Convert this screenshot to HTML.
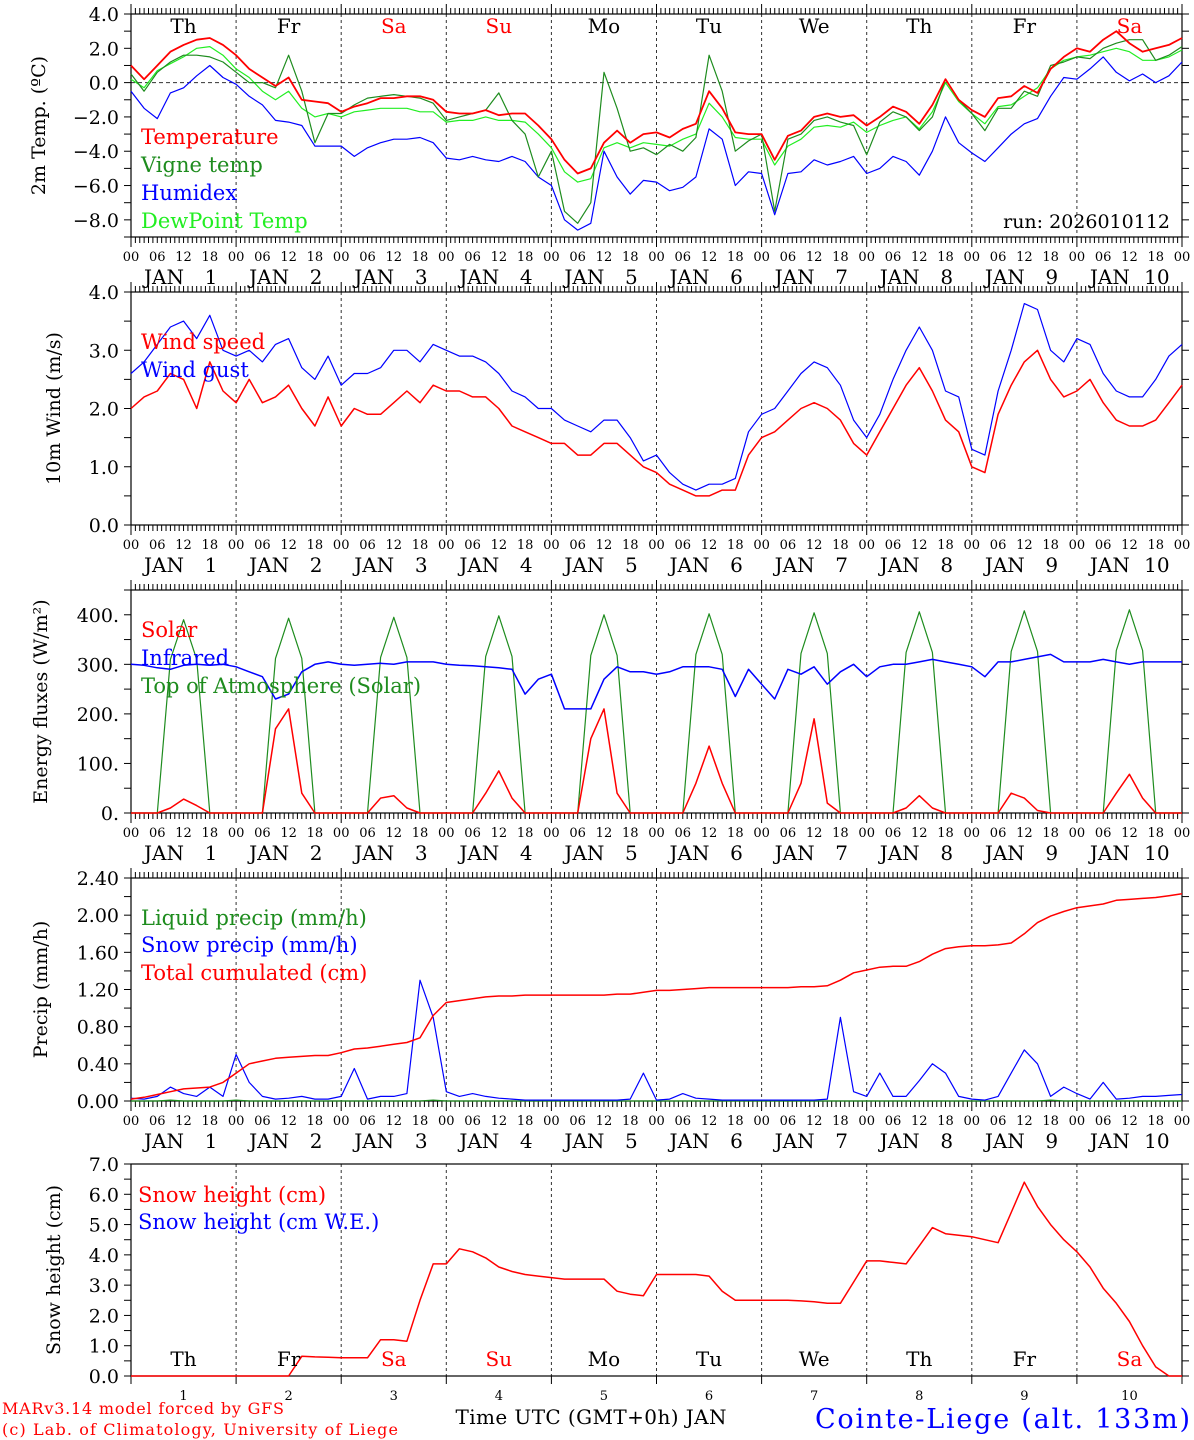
<!DOCTYPE html>
<html><head><meta charset="utf-8"><style>
html,body{margin:0;padding:0;background:#fff;}
svg{display:block;font-family:"DejaVu Serif","Liberation Serif",serif;}
</style></head><body>
<svg id="chart" width="1194" height="1440" viewBox="0 0 1194 1440" xmlns="http://www.w3.org/2000/svg"></svg>
<script>
// ---- data (3-hourly, Jan 1 00h .. Jan 11 00h, 81 points) ----
const dayNames = ["Th","Fr","Sa","Su","Mo","Tu","We","Th","Fr","Sa"];
const dayNums = ["1","2","3","4","5","6","7","8","9","10"];
const hourLabels = ["00","06","12","18"];
const tempVals = [1.0,0.2,1.0,1.8,2.2,2.5,2.6,2.2, 1.6,0.8,0.3,-0.2,0.3,-1.0,-1.1,-1.2, -1.7,-1.4,-1.2,-0.9,-0.9,-0.8,-0.8,-1.0, -1.7,-1.8,-1.8,-1.6,-1.9,-1.8,-1.8,-2.5, -3.3,-4.5,-5.3,-5.0,-3.5,-2.8,-3.5,-3.0, -2.9,-3.2,-2.7,-2.4,-0.5,-1.5,-2.9,-3.0, -3.0,-4.5,-3.1,-2.8,-2.0,-1.8,-2.0,-1.9, -2.5,-2.0,-1.4,-1.7,-2.4,-1.3,0.2,-1.0, -1.6,-2.0,-0.9,-0.8,-0.2,-0.6,0.8,1.5, 2.0,1.8,2.5,3.0,2.3,1.8,2.0,2.2,2.6];
const vigneVals = [0.5,-0.5,0.6,1.2,1.6,1.6,1.5,1.2, 0.6,0.0,0.0,-0.3,1.6,-0.5,-3.5,-1.8, -1.8,-1.3,-0.9,-0.8,-0.7,-0.8,-0.9,-1.2, -2.2,-2.0,-1.8,-1.6,-0.6,-2.2,-3.0,-5.5, -4.0,-7.5,-8.2,-7.0,0.6,-1.5,-4.0,-3.8, -4.2,-3.6,-4.0,-3.2,1.6,-0.5,-4.0,-3.4, -3.0,-7.5,-3.3,-3.0,-2.2,-2.0,-2.3,-2.5, -4.2,-2.3,-1.7,-2.0,-2.8,-2.0,0.2,-1.0, -1.8,-2.8,-1.5,-1.5,-0.5,-0.8,1.0,1.2, 1.5,1.4,2.0,2.3,2.5,2.5,1.3,1.6,2.1];
const humidexVals = [-0.5,-1.5,-2.1,-0.6,-0.3,0.4,1.0,0.3, -0.1,-0.8,-1.3,-2.2,-2.3,-2.5,-3.7,-3.7, -3.7,-4.3,-3.8,-3.5,-3.3,-3.3,-3.2,-3.5, -4.4,-4.5,-4.3,-4.5,-4.6,-4.3,-4.6,-5.5, -6.0,-8.0,-8.6,-8.2,-4.0,-5.5,-6.5,-5.7, -5.8,-6.3,-6.1,-5.5,-2.7,-3.3,-6.0,-5.2, -5.3,-7.7,-5.3,-5.2,-4.5,-4.8,-4.6,-4.3, -5.3,-5.0,-4.3,-4.6,-5.4,-4.0,-2.0,-3.5, -4.1,-4.6,-3.8,-3.0,-2.4,-2.1,-0.8,0.3, 0.2,0.8,1.5,0.6,0.1,0.5,0.0,0.4,1.2];
const dewVals = [0.2,-0.3,0.7,1.1,1.5,2.0,2.1,1.6, 0.8,0.3,-0.5,-1.0,-0.5,-1.5,-2.0,-1.8, -2.0,-1.7,-1.6,-1.5,-1.5,-1.5,-1.7,-1.7, -2.3,-2.2,-2.2,-2.0,-2.2,-2.2,-2.3,-3.0, -3.8,-5.2,-5.8,-5.6,-3.8,-3.5,-3.8,-3.5, -3.6,-3.7,-3.3,-3.0,-1.2,-2.0,-3.2,-3.3, -3.3,-4.8,-3.7,-3.3,-2.6,-2.5,-2.6,-2.3, -2.9,-2.5,-2.2,-2.0,-2.7,-1.7,0.0,-1.1, -1.8,-2.4,-1.4,-1.3,-0.8,-0.3,0.8,1.3, 1.5,1.6,1.8,2.0,1.8,1.3,1.3,1.5,1.9];
const windVals = [2.0,2.2,2.3,2.6,2.5,2.0,2.8,2.3, 2.1,2.5,2.1,2.2,2.4,2.0,1.7,2.2, 1.7,2.0,1.9,1.9,2.1,2.3,2.1,2.4, 2.3,2.3,2.2,2.2,2.0,1.7,1.6,1.5, 1.4,1.4,1.2,1.2,1.4,1.4,1.2,1.0, 0.9,0.7,0.6,0.5,0.5,0.6,0.6,1.2, 1.5,1.6,1.8,2.0,2.1,2.0,1.8,1.4, 1.2,1.6,2.0,2.4,2.7,2.3,1.8,1.6, 1.0,0.9,1.9,2.4,2.8,3.0,2.5,2.2, 2.3,2.5,2.1,1.8,1.7,1.7,1.8,2.1,2.4];
const gustVals = [2.6,2.8,3.1,3.4,3.5,3.2,3.6,3.0, 2.9,3.0,2.8,3.1,3.2,2.7,2.5,2.9, 2.4,2.6,2.6,2.7,3.0,3.0,2.8,3.1, 3.0,2.9,2.9,2.8,2.6,2.3,2.2,2.0, 2.0,1.8,1.7,1.6,1.8,1.8,1.5,1.1, 1.2,0.9,0.7,0.6,0.7,0.7,0.8,1.6, 1.9,2.0,2.3,2.6,2.8,2.7,2.4,1.8, 1.5,1.9,2.5,3.0,3.4,3.0,2.3,2.2, 1.3,1.2,2.3,3.0,3.8,3.7,3.0,2.8, 3.2,3.1,2.6,2.3,2.2,2.2,2.5,2.9,3.1];
const solarVals = [0,0,0,10,28,15,0,0, 0,0,0,170,210,40,0,0, 0,0,0,30,35,10,0,0, 0,0,0,40,85,30,0,0, 0,0,0,150,210,40,0,0, 0,0,0,60,135,60,0,0, 0,0,0,60,190,20,0,0, 0,0,0,10,35,10,0,0, 0,0,0,40,30,5,0,0, 0,0,0,40,78,30,0,0,0];
const infraVals = [300,298,293,290,298,300,298,300, 295,285,275,230,240,285,300,305, 300,298,300,302,300,305,305,305, 300,298,297,295,293,290,240,270, 280,210,210,210,270,295,285,285, 280,285,295,295,295,290,235,290, 260,230,290,280,295,260,285,300, 275,295,300,300,305,310,305,300, 295,275,305,305,310,315,320,305, 305,305,310,305,300,305,305,305,305];
const toaVals = [0,0,0,310,390,310,0,0, 0,0,0,312,393,312,0,0, 0,0,0,314,395,314,0,0, 0,0,0,316,398,316,0,0, 0,0,0,318,400,318,0,0, 0,0,0,320,402,320,0,0, 0,0,0,322,404,322,0,0, 0,0,0,324,406,324,0,0, 0,0,0,326,408,326,0,0, 0,0,0,328,410,328,0,0,0];
const liquidVals = [0,0,0,0.01,0,0,0,0, 0.01,0,0,0,0,0,0,0, 0,0,0,0,0,0,0,0.01, 0,0,0,0,0,0,0,0, 0,0,0,0,0,0,0,0, 0,0,0,0,0,0,0,0, 0,0,0,0,0,0,0,0, 0,0,0,0,0,0,0,0, 0,0,0,0,0,0,0.01,0, 0,0,0,0,0,0,0,0,0];
const snowPrecipVals = [0.03,0.02,0.05,0.15,0.08,0.05,0.15,0.05, 0.5,0.2,0.05,0.02,0.03,0.05,0.02,0.02, 0.05,0.35,0.02,0.05,0.05,0.08,1.3,0.9, 0.1,0.05,0.08,0.05,0.03,0.02,0.01,0.01, 0.01,0.01,0.01,0.01,0.01,0.01,0.02,0.3, 0.01,0.02,0.08,0.03,0.02,0.01,0.01,0.01, 0.01,0.01,0.01,0.01,0.01,0.02,0.9,0.1, 0.05,0.3,0.05,0.05,0.22,0.4,0.3,0.05, 0.02,0.01,0.05,0.3,0.55,0.4,0.05,0.15, 0.08,0.02,0.2,0.02,0.03,0.05,0.05,0.06,0.07];
const cumulVals = [0.02,0.04,0.07,0.10,0.13,0.14,0.15,0.20, 0.30,0.40,0.43,0.46,0.47,0.48,0.49,0.49, 0.52,0.56,0.57,0.59,0.61,0.63,0.68,0.92, 1.06,1.08,1.10,1.12,1.13,1.13,1.14,1.14, 1.14,1.14,1.14,1.14,1.14,1.15,1.15,1.17, 1.19,1.19,1.20,1.21,1.22,1.22,1.22,1.22, 1.22,1.22,1.22,1.23,1.23,1.24,1.30,1.38, 1.41,1.44,1.45,1.45,1.50,1.58,1.64,1.66, 1.67,1.67,1.68,1.70,1.80,1.92,1.99,2.04, 2.08,2.10,2.12,2.16,2.17,2.18,2.19,2.21,2.23];
const snowHVals = [0,0,0,0,0,0,0,0, 0,0,0,0,0,0.65,0.63,0.62, 0.6,0.6,0.6,1.2,1.2,1.15,2.5,3.7, 3.7,4.2,4.1,3.9,3.6,3.45,3.35,3.3, 3.25,3.2,3.2,3.2,3.2,2.8,2.7,2.65, 3.35,3.35,3.35,3.35,3.3,2.8,2.5,2.5, 2.5,2.5,2.5,2.48,2.45,2.4,2.4,3.1, 3.8,3.8,3.75,3.7,4.3,4.9,4.7,4.65, 4.6,4.5,4.4,5.4,6.4,5.6,5.0,4.5, 4.1,3.6,2.9,2.4,1.8,1.0,0.3,0,0];
const t1Ticks = [-8,-6,-4,-2,0,2,4];
const t2Ticks = [0,1,2,3,4];
const t3Ticks = [0,100,200,300,400];
const t4Ticks = [0,0.4,0.8,1.2,1.6,2.0,2.4];
const t5Ticks = [0,1,2,3,4,5,6,7];

const NS="http://www.w3.org/2000/svg";
const svg=document.getElementById('chart');
const X0=131, X1=1182;
function xt(h){return X0+h/240*(X1-X0);}
function xi(i){return xt(i*3);}
function mk(tag,attrs,parent){const e=document.createElementNS(NS,tag);for(const k in attrs)e.setAttribute(k,attrs[k]);(parent||svg).appendChild(e);return e;}
function txt(s,x,y,size,fill,anchor,parent){const e=mk('text',{x:x,y:y,'font-size':size,fill:fill||'#000','text-anchor':anchor||'start'},parent);e.textContent=s;return e;}

const panels=[
 {name:'temperature-panel',top:14,bot:237,min:-9,max:4,ticks:t1Ticks,minor:1,fmt:v=>v.toFixed(1).replace('-','−'),title:'2m Temp. (ºC)',tx:45,xlab:true},
 {name:'wind-panel',top:292,bot:525,min:0,max:4,ticks:t2Ticks,minor:0.5,fmt:v=>v.toFixed(1),title:'10m Wind (m/s)',tx:60,xlab:true},
 {name:'energy-panel',top:590,bot:813,min:0,max:450,ticks:t3Ticks,minor:50,fmt:v=>v.toFixed(0)+'.',title:'Energy fluxes (W/m²)',tx:47,xlab:true},
 {name:'precip-panel',top:878,bot:1101,min:0,max:2.4,ticks:t4Ticks,minor:0.2,fmt:v=>v.toFixed(2),title:'Precip (mm/h)',tx:47,xlab:true},
 {name:'snow-panel',top:1164,bot:1376,min:0,max:7,ticks:t5Ticks,minor:0.5,fmt:v=>v.toFixed(1),title:'Snow height (cm)',tx:60,xlab:false}
];
function ys(p,v){return p.bot-(v-p.min)/(p.max-p.min)*(p.bot-p.top);}

panels.forEach((p,pi)=>{
  const g=mk('g',{});
  
  
  for(let d=1;d<10;d++){const l=mk('line',{x1:xt(d*24),x2:xt(d*24),y1:p.top,y2:p.bot,stroke:'#333','stroke-width':1,'stroke-dasharray':'3,3'},g);
    
    }
  if(pi===0){const z=mk('line',{x1:X0,x2:X1,y1:ys(p,0),y2:ys(p,0),stroke:'#333','stroke-dasharray':'4,3'},g);
    
    }
  if(p.xlab){
    for(let h=0;h<=240;h++){const len=(h%24===0)?10:6;
      mk('line',{x1:xt(h),x2:xt(h),y1:p.bot,y2:p.bot+len,stroke:'#000'},g);
      mk('line',{x1:xt(h),x2:xt(h),y1:p.top,y2:p.top-len,stroke:'#000'},g);}
    for(let d=0;d<=10;d++){for(let k=0;k<4;k++){if(d===10&&k>0)break;
      const t=txt(hourLabels[k],xt(d*24+k*6),p.bot+24,13,'#000','middle',g);
      
      }}
    for(let d=0;d<10;d++){
      const a=txt('JAN',xt(d*24)+33,p.bot+47,20,'#000','middle',g);
      
      
      const b=txt(dayNums[d],xt(d*24)+80,p.bot+47,20,'#000','middle',g);
      
      }
  } else {
    for(let d=0;d<=10;d++){mk('line',{x1:xt(d*24),x2:xt(d*24),y1:p.bot,y2:p.bot+8,stroke:'#000'},g);}
    for(let d=0;d<10;d++){const b=txt(dayNums[d],xt(d*24+12),p.bot+24,13,'#000','middle',g);
      
      }
  }
  for(let v=p.min;v<=p.max+1e-9;v+=p.minor){const y=ys(p,v);
    mk('line',{x1:X0-7,x2:X0,y1:y,y2:y,stroke:'#000'},g);
    mk('line',{x1:X1,x2:X1+7,y1:y,y2:y,stroke:'#000'},g);}
  p.ticks.forEach(v=>{const t=txt(p.fmt(v),X0-12,ys(p,v)+7,19,'#000','end',g);
    
    });
  const cy=(p.top+p.bot)/2;
  const tt=mk('text',{x:p.tx,y:cy,'font-size':19,'text-anchor':'middle',transform:`rotate(-90 ${p.tx} ${cy})`,fill:'#000'},g);
  tt.textContent=p.title;
  
  
  const fr=mk('rect',{x:X0,y:p.top,width:X1-X0,height:p.bot-p.top,fill:'none',stroke:'#000','stroke-width':1.2},g);
  
  
});

function series(vals,p,color,name,w){
  const pts=vals.map((v,i)=>xi(i).toFixed(1)+','+ys(p,v).toFixed(1)).join(' ');
  const e=mk('polyline',{points:pts,fill:'none',stroke:color,'stroke-width':w||1.2,'stroke-linejoin':'round'});
  
  
}
const RED='#ff0000',BLUE='#0000ff',DG='#1e8c1e',LG='#22ee22';
series(humidexVals,panels[0],BLUE,'humidex-line');
series(dewVals,panels[0],LG,'dewpoint-line');
series(vigneVals,panels[0],DG,'vigne-temp-line');
series(tempVals,panels[0],RED,'temperature-line',1.8);
series(gustVals,panels[1],BLUE,'wind-gust-line');
series(windVals,panels[1],RED,'wind-speed-line',1.5);
series(toaVals,panels[2],DG,'toa-solar-line');
series(infraVals,panels[2],BLUE,'infrared-line',1.5);
series(solarVals,panels[2],RED,'solar-line',1.5);
series(liquidVals,panels[3],DG,'liquid-precip-line');
series(snowPrecipVals,panels[3],BLUE,'snow-precip-line');
series(cumulVals,panels[3],RED,'total-cumulated-line',1.5);
series(snowHVals,panels[4],RED,'snow-height-line',1.5);

function legend(s,x,y,c,name){const t=txt(s,x,y,21,c,'start');
  
  }
legend('Temperature',141,144,RED,'legend-temperature');
legend('Vigne temp',141,172,DG,'legend-vigne-temp');
legend('Humidex',141,200,BLUE,'legend-humidex');
legend('DewPoint Temp',141,228,LG,'legend-dewpoint');
legend('Wind speed',141,349,RED,'legend-wind-speed');
legend('Wind gust',141,377,BLUE,'legend-wind-gust');
legend('Solar',141,637,RED,'legend-solar');
legend('Infrared',141,665,BLUE,'legend-infrared');
legend('Top of Atmosphere (Solar)',141,693,DG,'legend-toa');
legend('Liquid precip (mm/h)',141,925,DG,'legend-liquid-precip');
legend('Snow precip (mm/h)',141,952,BLUE,'legend-snow-precip');
legend('Total cumulated (cm)',141,980,RED,'legend-total-cumulated');
legend('Snow height (cm)',138,1202,RED,'legend-snow-height');
legend('Snow height (cm W.E.)',138,1229,BLUE,'legend-snow-height-we');

const dayColors=['#000','#000','#ff0000','#ff0000','#000','#000','#000','#000','#000','#ff0000'];
for(let d=0;d<10;d++){
  const a=txt(dayNames[d],xt(d*24+12),33,20,dayColors[d],'middle');
  
  
  const b=txt(dayNames[d],xt(d*24+12),1366,20,dayColors[d],'middle');
  
  
}
const run=txt('run: 2026010112',1170,228,19,'#000','end');


const xtitle=txt('Time UTC (GMT+0h) JAN',591,1424,20,'#000','middle');
xtitle.setAttribute('textLength','271');


const c1=txt('MARv3.14 model forced by GFS',2,1414,16,RED,'start');
c1.setAttribute('textLength','282');


const c2=txt('(c) Lab. of Climatology, University of Liege',2,1435,16,RED,'start');
c2.setAttribute('textLength','396');


const st=txt('Cointe-Liege (alt. 133m)',1190,1428,27,BLUE,'end');
st.setAttribute('textLength','375');


</script>
</body></html>
